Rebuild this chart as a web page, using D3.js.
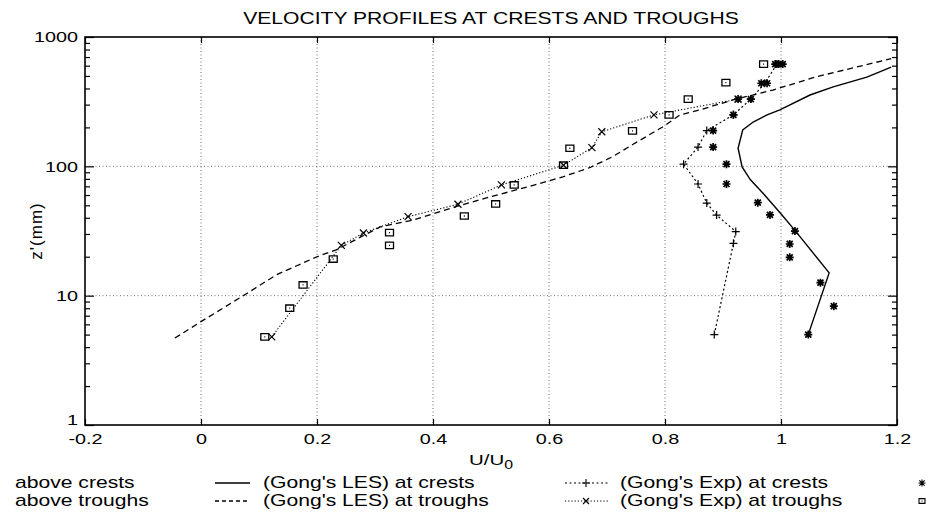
<!DOCTYPE html>
<html>
<head>
<meta charset="utf-8">
<script src="https://cdn.jsdelivr.net/npm/d3@7"></script>
<style>
  body { margin: 0; background: #fff; }
  svg { display: block; }
  text { font-family: "Liberation Sans", Arial, Helvetica, sans-serif; fill: #000; }
</style>
</head>
<body>
<svg id="chart" width="933" height="512"></svg>
<script>
// Axis ticks
const xTicks = [-0.2, 0, 0.2, 0.4, 0.6, 0.8, 1, 1.2];
const xTickLabels = ["-0.2", "0", "0.2", "0.4", "0.6", "0.8", "1", "1.2"];
const yTicks = [1, 10, 100, 1000];
const yTickLabels = ["1", "10", "100", "1000"];

// (Gong's LES) at crests — solid line
const lesCrestU = [1.047, 1.083, 1.024, 0.998, 0.969, 0.947, 0.933, 0.926, 0.934, 0.952, 0.976, 0.998, 1.05, 1.09, 1.148, 1.19];
const lesCrestZ = [5, 15, 32, 44, 62, 79, 99, 138, 191, 220, 250, 273, 356, 411, 490, 585];

// (Gong's LES) at troughs — dashed line
const lesTroughU = [-0.045, 0.0, 0.079, 0.13, 0.2, 0.233, 0.309, 0.366, 0.441, 0.51, 0.567, 0.624, 0.671, 0.71, 0.745, 0.797, 0.826, 0.86, 0.917, 0.986, 1.062, 1.19];
const lesTroughZ = [4.7, 6.3, 10.4, 14.5, 20, 22.6, 34, 38.5, 49, 60, 70, 83, 98, 119, 148, 203, 250, 273, 326, 389, 494, 680];

// (Gong's Exp) at crests — dotted line with plus markers
const expCrestU = [0.885, 0.918, 0.922, 0.889, 0.872, 0.857, 0.832, 0.857, 0.872, 0.918, 0.948, 0.972, 0.993];
const expCrestZ = [5, 25.4, 31.3, 42, 52, 73, 104, 141, 189, 250, 331, 439, 617];

// (Gong's Exp) at troughs — dotted line with cross markers
const expTroughU = [0.122, 0.242, 0.28, 0.357, 0.443, 0.518, 0.625, 0.674, 0.691, 0.781, 0.926];
const expTroughZ = [4.8, 24.5, 30.5, 40.8, 50.9, 71.8, 102, 139.6, 185, 250, 331];

// above crests — asterisk markers
const crestU = [1.047, 1.091, 1.068, 1.015, 1.015, 1.024, 0.981, 0.96, 0.906, 0.906, 0.883, 0.883, 0.918, 0.926, 0.948, 0.966, 0.976, 0.990, 0.996, 1.003];
const crestZ = [5, 8.3, 12.6, 19.8, 25.1, 31.6, 42.1, 52.4, 73, 104, 141, 189, 250, 331, 331, 439, 439, 617, 617, 617];

// above troughs — square markers
const troughU = [0.11, 0.153, 0.176, 0.228, 0.325, 0.325, 0.454, 0.508, 0.54, 0.625, 0.636, 0.744, 0.807, 0.84, 0.905, 0.97];
const troughZ = [4.8, 8, 12.1, 19.2, 24.5, 30.7, 41.3, 51.2, 71.8, 102, 138, 188, 250, 331, 444, 617];

const pts = (us, zs) => us.map((u, i) => [u, zs[i]]);

const svg = d3.select("#chart");
const L = 85, R = 897, T = 37, B = 425;
const SX = 1.32;      // horizontal stretch of the lettering
const FS = 15.5;      // font size of axis labels
const LFS = 16;       // font size of legend entries
const TFS = 15;       // font size of tick labels

const x = d3.scaleLinear().domain([-0.2, 1.2]).range([L, R]);
const y = d3.scaleLog().domain([1, 1000]).range([B, T]);

// Place a horizontally stretched label
function label(g, str, px, py, anchor, size) {
  return g.append("text")
    .attr("transform", `translate(${px},${py}) scale(${SX},1)`)
    .attr("text-anchor", anchor || "start")
    .style("font-size", (size || FS) + "px")
    .text(str);
}

// Grid lines
const grid = svg.append("g")
  .attr("stroke", "#000").attr("stroke-width", 0.8)
  .attr("stroke-dasharray", "1,2.5").attr("opacity", 0.7);
grid.selectAll("line.v").data(xTicks.slice(1, -1)).join("line").attr("class", "v")
  .attr("x1", d => x(d)).attr("x2", d => x(d)).attr("y1", T).attr("y2", B);
grid.selectAll("line.h").data(yTicks.slice(1, -1)).join("line").attr("class", "h")
  .attr("y1", d => y(d)).attr("y2", d => y(d)).attr("x1", L).attr("x2", R);

// Axes
const minorY = [];
for (let e = 0; e < 3; e++) for (let m = 2; m <= 9; m++) minorY.push(m * Math.pow(10, e));

const bottom = svg.append("g").attr("transform", `translate(0,${B})`)
  .call(d3.axisBottom(x).tickValues(xTicks).tickFormat((d, i) => xTickLabels[i])
    .tickSizeInner(-6).tickSizeOuter(0).tickPadding(8));
bottom.selectAll("text").style("font-size", TFS + "px").attr("transform", `scale(${SX},1)`);

svg.append("g").attr("transform", `translate(0,${T})`)
  .call(d3.axisTop(x).tickValues(xTicks).tickFormat("").tickSizeInner(-6).tickSizeOuter(0));

const left = svg.append("g").attr("transform", `translate(${L},0)`)
  .call(d3.axisLeft(y).tickValues(yTicks).tickFormat((d, i) => yTickLabels[i])
    .tickSizeInner(-9).tickSizeOuter(0).tickPadding(7 / SX));
left.selectAll("text").style("font-size", TFS + "px").attr("transform", `scale(${SX},1)`);
// the lowest label sits just above the "-0.2" of the horizontal axis
left.selectAll(".tick").filter(d => d === 1).select("text").attr("y", -5);
svg.append("g").attr("transform", `translate(${L},0)`)
  .call(d3.axisLeft(y).tickValues(minorY).tickFormat("").tickSizeInner(-5).tickSizeOuter(0));

svg.append("g").attr("transform", `translate(${R},0)`)
  .call(d3.axisRight(y).tickValues(yTicks).tickFormat("").tickSizeInner(-9).tickSizeOuter(0));
svg.append("g").attr("transform", `translate(${R},0)`)
  .call(d3.axisRight(y).tickValues(minorY).tickFormat("").tickSizeInner(-5).tickSizeOuter(0));

svg.selectAll(".domain").remove();
svg.selectAll(".tick line").attr("stroke", "#000").attr("stroke-width", 1.2);

// Frame
svg.append("rect").attr("x", L).attr("y", T).attr("width", R - L).attr("height", B - T)
  .attr("fill", "none").attr("stroke", "#000").attr("stroke-width", 1.6);

// Marker shapes
const mk = {
  plus: s => `M${-s},0H${s}M0,${-s}V${s}`,
  times: s => `M${-s},${-s}L${s},${s}M${-s},${s}L${s},${-s}`,
  star: s => `M${-s},0H${s}M0,${-s}V${s}M${-s * 0.75},${-s * 0.75}L${s * 0.75},${s * 0.75}M${-s * 0.75},${s * 0.75}L${s * 0.75},${-s * 0.75}`,
  square: s => `M${-s},${-s * 0.8}H${s}V${s * 0.8}H${-s}ZM-0.5,0H0.5`
};

const line = d3.line().x(d => x(d[0])).y(d => y(d[1]));
const plot = svg.append("g");

// Model curves
plot.append("path").datum(pts(lesCrestU, lesCrestZ)).attr("d", line)
  .attr("fill", "none").attr("stroke", "#000").attr("stroke-width", 1.4);
plot.append("path").datum(pts(lesTroughU, lesTroughZ)).attr("d", line)
  .attr("fill", "none").attr("stroke", "#000").attr("stroke-width", 1.3).attr("stroke-dasharray", "6,4");

// Experimental curves
plot.append("path").datum(pts(expCrestU, expCrestZ)).attr("d", line)
  .attr("fill", "none").attr("stroke", "#000").attr("stroke-width", 1.2).attr("stroke-dasharray", "2,2.5");
plot.append("path").datum(pts(expTroughU, expTroughZ)).attr("d", line)
  .attr("fill", "none").attr("stroke", "#000").attr("stroke-width", 1.1).attr("stroke-dasharray", "1.2,2");

function markers(data, shape, size, sw) {
  plot.append("g").selectAll("path").data(data).join("path")
    .attr("transform", d => `translate(${x(d[0])},${y(d[1])})`)
    .attr("d", mk[shape](size))
    .attr("fill", "none").attr("stroke", "#000").attr("stroke-width", sw);
}
markers(pts(expCrestU, expCrestZ), "plus", 4, 1.2);
markers(pts(expTroughU, expTroughZ), "times", 3.5, 1.2);
markers(pts(crestU, crestZ), "star", 4, 1.7);
markers(pts(troughU, troughZ), "square", 4, 1.3);

// Title and axis labels
const txt = svg.append("g");
label(txt, "VELOCITY PROFILES AT CRESTS AND TROUGHS", (L + R) / 2, 24, "middle", 16);

const xl = txt.append("text")
  .attr("transform", `translate(${(L + R) / 2},465) scale(${SX},1)`)
  .attr("text-anchor", "middle").style("font-size", FS + "px");
xl.append("tspan").text("U/U");
xl.append("tspan").attr("dy", 4).style("font-size", "12px").text("0");

txt.append("text")
  .attr("transform", `translate(42,${(T + B) / 2}) rotate(-90)`)
  .attr("text-anchor", "middle").style("font-size", "17px").style("letter-spacing", "1px")
  .text("z'(mm)");

// Legend
const lg = svg.append("g");
const rows = [488, 506];
label(lg, "above crests", 15, rows[0], "start", LFS);
label(lg, "above troughs", 15, rows[1], "start", LFS);
lg.append("line").attr("x1", 215).attr("x2", 250).attr("y1", rows[0] - 5).attr("y2", rows[0] - 5)
  .attr("stroke", "#000").attr("stroke-width", 1.4);
lg.append("line").attr("x1", 215).attr("x2", 250).attr("y1", rows[1] - 5).attr("y2", rows[1] - 5)
  .attr("stroke", "#000").attr("stroke-width", 1.3).attr("stroke-dasharray", "4,3");
label(lg, "(Gong's LES) at crests", 263, rows[0], "start", LFS);
label(lg, "(Gong's LES) at troughs", 263, rows[1], "start", LFS);
lg.append("line").attr("x1", 565).attr("x2", 608).attr("y1", rows[0] - 5).attr("y2", rows[0] - 5)
  .attr("stroke", "#000").attr("stroke-width", 1.1).attr("stroke-dasharray", "2,2.5");
lg.append("line").attr("x1", 565).attr("x2", 608).attr("y1", rows[1] - 5).attr("y2", rows[1] - 5)
  .attr("stroke", "#000").attr("stroke-width", 1.0).attr("stroke-dasharray", "1.2,2");
lg.append("path").attr("transform", `translate(586,${rows[0] - 5})`).attr("d", mk.plus(4))
  .attr("stroke", "#000").attr("stroke-width", 1.1).attr("fill", "none");
lg.append("path").attr("transform", `translate(586,${rows[1] - 5})`).attr("d", mk.times(3))
  .attr("stroke", "#000").attr("stroke-width", 1.1).attr("fill", "none");
label(lg, "(Gong's Exp) at crests", 620, rows[0], "start", LFS);
label(lg, "(Gong's Exp) at troughs", 620, rows[1], "start", LFS);
lg.append("path").attr("transform", `translate(922,${rows[0] - 5})`).attr("d", mk.star(3.5))
  .attr("stroke", "#000").attr("stroke-width", 1.1).attr("fill", "none");
lg.append("path").attr("transform", `translate(922,${rows[1] - 5})`).attr("d", mk.square(3))
  .attr("stroke", "#000").attr("stroke-width", 1.1).attr("fill", "none");
</script>
</body>
</html>
